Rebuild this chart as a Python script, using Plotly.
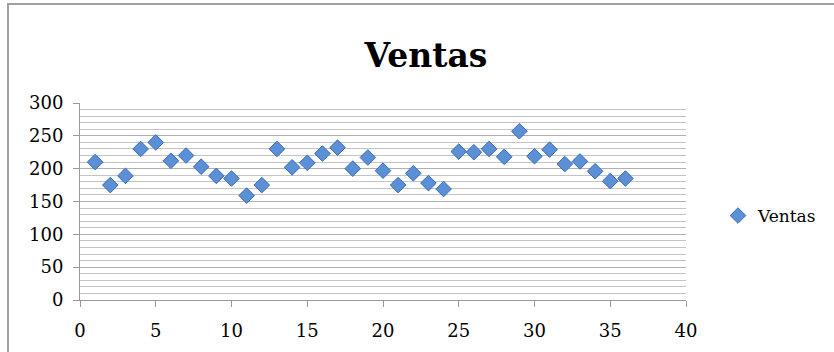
import plotly.graph_objects as go

periodo = list(range(1, 37))
ventas = [210, 175, 189, 230, 240, 212, 220, 203, 189, 185, 159, 175,
          230, 202, 209, 223, 232, 200, 217, 197, 175, 193, 178, 169,
          226, 225, 230, 218, 257, 219, 229, 207, 211, 196, 181, 185]
serie = "Ventas"
titulo = "Ventas"

W, H = 834, 352
L, R, T, B = 80, 148, 103, 52
pw, ph = W - L - R, H - T - B

fig = go.Figure()
fig.add_trace(go.Scatter(
    x=periodo, y=ventas, mode="markers", name=serie,
    marker=dict(symbol="diamond", size=12, color="#5b8fd6",
                line=dict(color="#3a6db5", width=1)),
))

font = "DejaVu Serif"
fig.update_layout(
    width=W, height=H,
    margin=dict(l=L, r=R, t=T, b=B, autoexpand=False),
    paper_bgcolor="white", plot_bgcolor="white",
    title=dict(text="<b>" + titulo + "</b>", x=(426 / W), xanchor="center",
               y=1 - 55 / H, yanchor="middle",
               font=dict(family=font, size=33, color="black")),
    showlegend=True,
    legend=dict(xref="container", yref="container",
                x=718 / W, y=1 - 216 / H, xanchor="left", yanchor="middle",
                font=dict(family=font, size=17, color="black"),
                itemwidth=30, bgcolor="rgba(0,0,0,0)"),
    font=dict(family=font, size=18, color="black"),
)
fig.update_xaxes(range=[0, 40], tickvals=[0, 5, 10, 15, 20, 25, 30, 35, 40],
                 showgrid=False, zeroline=False, showline=True, linecolor="#9a9a9a",
                 linewidth=1, ticks="outside", tickcolor="#9a9a9a", ticklen=6,
                 tickfont=dict(family=font, size=18), ticklabelstandoff=8)
fig.update_yaxes(range=[0, 300], tickvals=[0, 50, 100, 150, 200, 250, 300],
                 showgrid=True, gridcolor="#b0b0b0", gridwidth=1,
                 minor=dict(dtick=10, showgrid=True, gridcolor="#c4c4c4", gridwidth=1),
                 zeroline=False, showline=True, linecolor="#9a9a9a", linewidth=1,
                 ticks="outside", tickcolor="#9a9a9a", ticklen=6,
                 tickfont=dict(family=font, size=18), ticklabelstandoff=6)

# outer chart border (top and left visible)
fig.add_shape(type="rect", xref="paper", yref="paper",
              x0=(8 - L) / pw, x1=(840 - L) / pw,
              y0=(300 - 360) / ph, y1=(300 - 4) / ph,
              line=dict(color="#a0a0a0", width=2), layer="below")

fig.write_html("out.html", config={"displayModeBar": False},
               post_script="document.body.style.margin='0';document.body.style.overflow='hidden';")
